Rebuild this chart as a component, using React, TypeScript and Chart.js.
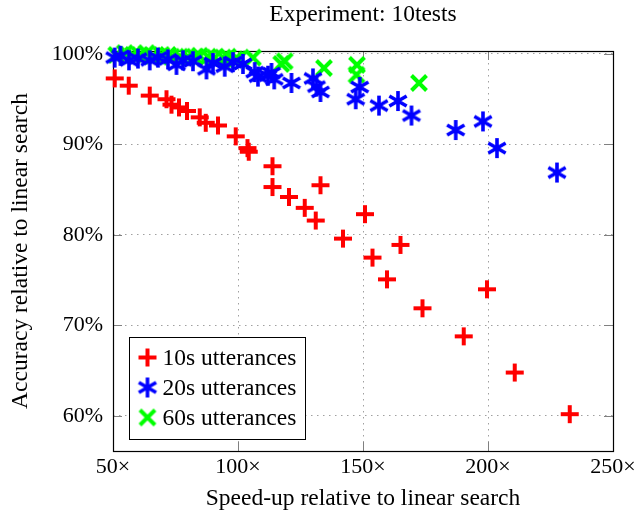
import React, { useEffect, useRef } from 'react';
import { Chart, registerables } from 'chart.js';

Chart.register(...registerables);

const TITLE = 'Experiment: 10tests';
const X_TITLE = 'Speed-up relative to linear search';
const Y_TITLE = 'Accuracy relative to linear search';
const X_TICKS = [50, 100, 150, 200, 250];
const Y_TICKS = [60, 70, 80, 90, 100];
const SERIES_LABELS = ['10s utterances', '20s utterances', '60s utterances'];
const SERIES_COLORS = ['#ff0000', '#0000ff', '#00ff00'];

const SPEEDUP_10S = [50.7, 56.3, 64.7, 71.4, 73.4, 76.4, 79.6, 84.7, 87.1, 92.0, 99.1, 103.8, 104.3, 113.8, 113.8, 120.4, 126.7, 131.1, 133.0, 142.0, 150.8, 153.8, 159.6, 165.0, 173.8, 190.3, 199.6, 210.7, 232.7];
const ACCURACY_10S = [97.3, 96.5, 95.4, 95.0, 94.4, 94.1, 93.7, 93.0, 92.4, 92.1, 90.9, 89.6, 89.2, 87.6, 85.3, 84.2, 83.0, 81.6, 85.5, 79.6, 82.3, 77.5, 75.1, 78.9, 71.9, 68.8, 74.0, 64.8, 60.2];

const SPEEDUP_20S = [50.7, 53.0, 56.4, 60.0, 64.7, 68.0, 72.0, 75.4, 78.0, 82.0, 87.4, 90.0, 94.7, 98.0, 102.0, 106.7, 108.0, 112.0, 113.4, 114.5, 121.4, 130.0, 131.4, 133.0, 147.1, 148.7, 156.4, 164.0, 169.4, 187.1, 198.0, 203.6, 227.6];
const ACCURACY_20S = [99.6, 99.8, 99.3, 99.5, 99.3, 99.6, 99.4, 98.8, 99.3, 99.2, 98.3, 99.0, 98.6, 99.1, 98.9, 98.0, 97.5, 97.6, 97.9, 97.2, 96.8, 97.3, 96.4, 95.8, 95.0, 96.35, 94.3, 94.8, 93.2, 91.6, 92.55, 89.6, 86.9];

const SPEEDUP_60S = [51.3, 54.7, 58.0, 60.7, 63.4, 66.0, 69.4, 72.0, 73.4, 76.7, 80.0, 82.7, 84.7, 88.0, 90.7, 94.0, 96.0, 98.7, 100.0, 106.0, 117.3, 118.7, 134.4, 147.6, 147.4, 172.4];
const ACCURACY_60S = [99.9, 100.1, 99.9, 99.9, 100.1, 99.8, 99.9, 99.9, 99.7, 99.7, 99.7, 99.7, 99.8, 99.7, 99.6, 99.6, 99.7, 99.4, 99.4, 99.6, 98.9, 99.2, 98.45, 98.8, 97.7, 96.8];

const X_MIN = 50;
const X_MAX = 250;
const Y_MIN = 56.13;
const Y_MAX = 100.33;

const FONT_FAMILY = '"Liberation Serif", "Times New Roman", serif';
const TICK_SIZE = 22;
const TEXT_SIZE = 23.5;

function zip(xs: number[], ys: number[]) {
  return xs.map((x, i) => ({ x, y: ys[i] }));
}

type Kind = 'plus' | 'asterisk' | 'x';

function makeMarker(kind: Kind, color: string): HTMLCanvasElement {
  const size = 26;
  const c = document.createElement('canvas');
  c.width = size;
  c.height = size;
  const ctx = c.getContext('2d')!;
  const m = size / 2;
  ctx.strokeStyle = color;
  ctx.lineWidth = 4;
  ctx.lineCap = 'butt';
  ctx.beginPath();
  if (kind === 'plus') {
    const r = 9;
    ctx.moveTo(m - r, m);
    ctx.lineTo(m + r, m);
    ctx.moveTo(m, m - r);
    ctx.lineTo(m, m + r);
  } else if (kind === 'asterisk') {
    ctx.lineWidth = 3.6;
    const r = 10;
    for (const a of [90, 30, 150]) {
      const rad = (a * Math.PI) / 180;
      const dx = r * Math.cos(rad);
      const dy = r * Math.sin(rad);
      ctx.moveTo(m - dx, m - dy);
      ctx.lineTo(m + dx, m + dy);
    }
  } else {
    const r = 7.5;
    ctx.moveTo(m - r, m - r);
    ctx.lineTo(m + r, m + r);
    ctx.moveTo(m - r, m + r);
    ctx.lineTo(m + r, m - r);
  }
  ctx.stroke();
  return c;
}

export default function App() {
  const ref = useRef<HTMLCanvasElement | null>(null);

  useEffect(() => {
    const canvas = ref.current;
    if (!canvas) return;
    const kinds: Kind[] = ['plus', 'asterisk', 'x'];
    const markers = kinds.map((k, i) => makeMarker(k, SERIES_COLORS[i]));
    const tickFont = { family: FONT_FAMILY, size: TICK_SIZE };
    const textFont = { family: FONT_FAMILY, size: TEXT_SIZE };

    const framePlugin = {
      id: 'frameAndDecor',
      beforeDatasetsDraw(chart: any) {
        const { ctx, chartArea: a, scales } = chart;
        ctx.save();
        ctx.strokeStyle = '#808080';
        ctx.lineWidth = 1;
        const tl = 9;
        ctx.beginPath();
        for (const v of X_TICKS) {
          if (v === X_MIN || v === X_MAX) continue;
          const px = Math.round(scales.x.getPixelForValue(v)) + 0.5;
          ctx.moveTo(px, a.bottom);
          ctx.lineTo(px, a.bottom - tl);
          ctx.moveTo(px, a.top);
          ctx.lineTo(px, a.top + tl);
        }
        for (const v of Y_TICKS) {
          const py = Math.round(scales.y.getPixelForValue(v)) + 0.5;
          ctx.moveTo(a.left, py);
          ctx.lineTo(a.left + tl, py);
          ctx.moveTo(a.right, py);
          ctx.lineTo(a.right - tl, py);
        }
        ctx.stroke();
        ctx.strokeStyle = '#000';
        ctx.lineWidth = 1.2;
        ctx.strokeRect(Math.round(a.left) + 0.5, Math.round(a.top) + 0.5, Math.round(a.right - a.left), Math.round(a.bottom - a.top));
        ctx.restore();
      },
      afterDraw(chart: any) {
        const { ctx, chartArea: a } = chart;
        ctx.save();
        ctx.fillStyle = '#000';
        ctx.font = `${TEXT_SIZE}px ${FONT_FAMILY}`;
        ctx.textAlign = 'center';
        ctx.textBaseline = 'middle';
        ctx.fillText(TITLE, (a.left + a.right) / 2, 15);
        const lx = Math.round(a.left + 16) + 0.5;
        const lw = 176;
        const lh = 102;
        const ly = Math.round(a.bottom - 12 - lh) + 0.5;
        ctx.fillStyle = '#fff';
        ctx.fillRect(lx, ly, lw, lh);
        ctx.strokeStyle = '#000';
        ctx.lineWidth = 1;
        ctx.strokeRect(lx, ly, lw, lh);
        ctx.textAlign = 'left';
        ctx.fillStyle = '#000';
        SERIES_LABELS.forEach((label, i) => {
          const cy = ly + 20 + i * 30;
          const mk = markers[i];
          ctx.drawImage(mk, lx + 18 - mk.width / 2, cy - mk.height / 2);
          ctx.fillText(label, lx + 33, cy + 1);
        });
        ctx.restore();
      },
    };

    const gridColor = (c: any) => {
      const v = c.tick ? c.tick.value : null;
      if (c.scale.axis === 'x' && (v === X_MIN || v === X_MAX)) return 'rgba(0,0,0,0)';
      return '#a0a0a0';
    };

    const chart = new Chart(canvas, {
      type: 'scatter',
      data: {
        datasets: [
          { label: SERIES_LABELS[0], data: zip(SPEEDUP_10S, ACCURACY_10S), pointStyle: markers[0] as any, clip: false as any },
          { label: SERIES_LABELS[1], data: zip(SPEEDUP_20S, ACCURACY_20S), pointStyle: markers[1] as any, clip: false as any },
          { label: SERIES_LABELS[2], data: zip(SPEEDUP_60S, ACCURACY_60S), pointStyle: markers[2] as any, clip: false as any },
        ],
      },
      options: {
        responsive: false,
        animation: false,
        devicePixelRatio: 1,
        layout: { padding: { left: 0, top: 51, right: 28, bottom: 0 } },
        plugins: {
          legend: { display: false },
          title: { display: false },
          tooltip: { enabled: false },
        },
        scales: {
          x: {
            type: 'linear',
            min: X_MIN,
            max: X_MAX,
            afterBuildTicks: (s: any) => {
              s.ticks = X_TICKS.map((v) => ({ value: v }));
            },
            afterFit: (s: any) => {
              s.height = 65;
            },
            ticks: {
              callback: (v: any) => `${v}×`,
              font: tickFont,
              color: '#000',
              padding: 3,
              maxRotation: 0,
              autoSkip: false,
            },
            grid: { color: gridColor, lineWidth: 1, drawTicks: false, borderDash: [1.5, 4.5] } as any,
            border: { display: false, dash: [1.5, 4.5] },
            title: { display: true, text: X_TITLE, font: textFont, color: '#000', padding: { top: 0, bottom: 3 } },
          },
          y: {
            type: 'linear',
            min: Y_MIN,
            max: Y_MAX,
            afterBuildTicks: (s: any) => {
              s.ticks = Y_TICKS.map((v) => ({ value: v }));
            },
            afterFit: (s: any) => {
              s.width = 113;
            },
            ticks: {
              callback: (v: any) => `${v}%`,
              font: tickFont,
              color: '#000',
              padding: 10,
              autoSkip: false,
            },
            grid: { color: gridColor, lineWidth: 1, drawTicks: false, borderDash: [1.5, 4.5] } as any,
            border: { display: false, dash: [1.5, 4.5] },
            title: { display: true, text: Y_TITLE, font: textFont, color: '#000', padding: { top: 7, bottom: 0 } },
          },
        },
      },
      plugins: [framePlugin],
    });
    return () => chart.destroy();
  }, []);

  return (
    <div style={{ position: 'fixed', left: 0, top: 0, width: 641, height: 516, background: '#fff' }}>
      <canvas ref={ref} width={641} height={516} style={{ display: 'block', width: 641, height: 516 }} />
    </div>
  );
}
